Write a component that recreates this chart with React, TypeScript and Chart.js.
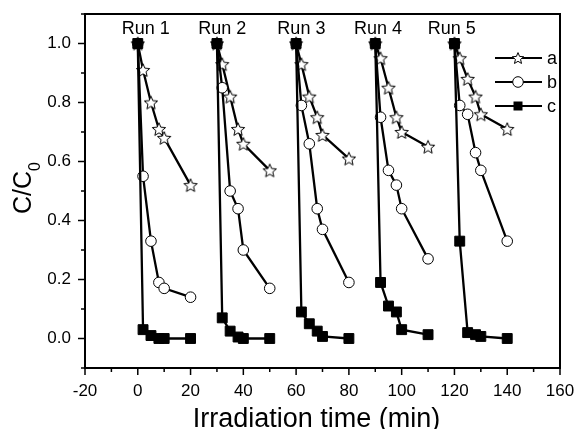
import React, { useEffect, useRef } from 'react';
import { Chart, registerables } from 'chart.js';

Chart.register(...registerables);

// ---- data ----
const runTimes: number[][] = [
  [0, 2, 5, 8, 10, 20],
  [30, 32, 35, 38, 40, 50],
  [60, 62, 65, 68, 70, 80],
  [90, 92, 95, 98, 100, 110],
  [120, 122, 125, 128, 130, 140],
];
const seriesA: number[][] = [
  [1, 0.91, 0.80, 0.71, 0.68, 0.52],
  [1, 0.93, 0.82, 0.71, 0.66, 0.57],
  [1, 0.93, 0.82, 0.75, 0.69, 0.61],
  [1, 0.95, 0.85, 0.75, 0.70, 0.65],
  [1, 0.95, 0.88, 0.82, 0.76, 0.71],
];
const seriesB: number[][] = [
  [1, 0.55, 0.33, 0.19, 0.17, 0.14],
  [1, 0.85, 0.50, 0.44, 0.30, 0.17],
  [1, 0.79, 0.66, 0.44, 0.37, 0.19],
  [1, 0.75, 0.57, 0.52, 0.44, 0.27],
  [1, 0.79, 0.76, 0.63, 0.57, 0.33],
];
const seriesC: number[][] = [
  [1, 0.03, 0.01, 0.0, 0.0, 0.0],
  [1, 0.07, 0.025, 0.005, 0.0, 0.0],
  [1, 0.09, 0.05, 0.025, 0.007, 0.0],
  [1, 0.19, 0.11, 0.09, 0.03, 0.013],
  [1, 0.33, 0.02, 0.013, 0.007, 0.0],
];
const seriesNames = ['a', 'b', 'c'];
const runLabels = ['Run 1', 'Run 2', 'Run 3', 'Run 4', 'Run 5'];
const runLabelX = [3, 32, 62, 91, 119];
const xMin = -20, xMax = 160, xMinorStep = 10, xMajorStep = 20;
const yMin = -0.1, yMax = 1.1;
const xTitle = 'Irradiation time (min)';

const FONT = '"Liberation Sans", Arial, Helvetica, sans-serif';

function buildPoints(series: number[][]) {
  const pts: { x: number; y: number | null }[] = [];
  runTimes.forEach((times, r) => {
    times.forEach((t, i) => pts.push({ x: t, y: series[r][i] }));
    if (r < runTimes.length - 1) pts.push({ x: times[times.length - 1] + 5, y: null });
  });
  return pts;
}

function makeStar(r: number): HTMLCanvasElement {
  const size = Math.ceil(r * 2 + 4);
  const c = document.createElement('canvas');
  c.width = size;
  c.height = size;
  const g = c.getContext('2d')!;
  const cx = size / 2, cy = size / 2 + r * 0.1;
  g.beginPath();
  for (let i = 0; i < 10; i++) {
    const a = -Math.PI / 2 + (i * Math.PI) / 5;
    const rad = i % 2 === 0 ? r : r * 0.45;
    const px = cx + rad * Math.cos(a), py = cy + rad * Math.sin(a);
    if (i === 0) g.moveTo(px, py); else g.lineTo(px, py);
  }
  g.closePath();
  g.fillStyle = '#fff';
  g.fill();
  g.strokeStyle = '#000';
  g.lineWidth = 1;
  g.stroke();
  return c;
}

function zeroPad(s: any) {
  s.paddingLeft = 0;
  s.paddingRight = 0;
  s.paddingTop = 0;
  s.paddingBottom = 0;
}

export default function App() {
  const ref = useRef<HTMLCanvasElement>(null);

  useEffect(() => {
    const star = makeStar(7);
    const legendStar = makeStar(6);

    const decor = {
      id: 'decor',
      afterDraw(chart: any) {
        const { ctx, chartArea: ca, scales } = chart;
        const xs = scales.x, ys = scales.y;
        ctx.save();
        ctx.strokeStyle = '#000';
        ctx.fillStyle = '#000';
        ctx.lineWidth = 2;
        ctx.strokeRect(ca.left, ca.top, ca.right - ca.left, ca.bottom - ca.top);

        // ticks
        ctx.lineWidth = 1.5;
        for (let v = xMin; v <= xMax + 1e-9; v += xMinorStep) {
          const px = xs.getPixelForValue(v);
          const major = Math.abs(v % xMajorStep) < 1e-6;
          const len = major ? 7 : 4;
          ctx.beginPath();
          ctx.moveTo(px, ca.bottom);
          ctx.lineTo(px, ca.bottom + len);
          ctx.stroke();
        }
        for (let k = Math.round(yMin * 10); k <= Math.round(yMax * 10); k++) {
          const py = ys.getPixelForValue(k / 10);
          const major = k % 2 === 0;
          const len = major ? 7 : 4;
          ctx.beginPath();
          ctx.moveTo(ca.left, py);
          ctx.lineTo(ca.left - len, py);
          ctx.stroke();
        }

        // run labels
        ctx.font = `18px ${FONT}`;
        ctx.textAlign = 'center';
        ctx.textBaseline = 'alphabetic';
        runLabels.forEach((lab, i) => {
          ctx.fillText(lab, xs.getPixelForValue(runLabelX[i]), ys.getPixelForValue(1) - 9.5);
        });

        // legend
        const rows = [58, 82, 106];
        seriesNames.forEach((name, i) => {
          const y = rows[i];
          ctx.lineWidth = 2.2;
          ctx.beginPath();
          ctx.moveTo(495, y);
          ctx.lineTo(542, y);
          ctx.stroke();
          if (i === 0) {
            ctx.drawImage(legendStar, 518 - legendStar.width / 2, y - legendStar.height / 2);
          } else if (i === 1) {
            ctx.beginPath();
            ctx.arc(518, y, 5.3, 0, Math.PI * 2);
            ctx.fillStyle = '#fff';
            ctx.fill();
            ctx.lineWidth = 1;
            ctx.stroke();
            ctx.fillStyle = '#000';
          } else {
            ctx.fillRect(513.5, y - 4.5, 9, 9);
          }
          ctx.font = `18px ${FONT}`;
          ctx.textAlign = 'left';
          ctx.textBaseline = 'middle';
          ctx.fillText(name, 547, y + 1);
        });

        // x title
        ctx.font = `27px ${FONT}`;
        ctx.textAlign = 'center';
        ctx.textBaseline = 'alphabetic';
        ctx.fillText(xTitle, (ca.left + ca.right) / 2 - 6, ca.bottom + 58.5);

        // y title C/C0
        ctx.translate(31, (ca.top + ca.bottom) / 2 - 3);
        ctx.rotate(-Math.PI / 2);
        ctx.font = `25px ${FONT}`;
        const w1 = ctx.measureText('C/C').width;
        ctx.font = `16px ${FONT}`;
        const w2 = ctx.measureText('0').width;
        const start = -(w1 + w2) / 2;
        ctx.textAlign = 'left';
        ctx.font = `25px ${FONT}`;
        ctx.fillText('C/C', start, 0);
        ctx.font = `16px ${FONT}`;
        ctx.fillText('0', start + w1, 9);
        ctx.restore();
      },
    };

    const common = {
      borderColor: '#000',
      borderWidth: 2.3,
      pointBorderColor: '#000',
      pointBorderWidth: 1,
      spanGaps: false,
      tension: 0,
    };

    const chart = new Chart(ref.current!, {
      type: 'line',
      data: {
        datasets: [
          {
            ...common,
            label: seriesNames[0],
            data: buildPoints(seriesA),
            pointStyle: star as any,
            pointRadius: 7,
            pointBackgroundColor: '#fff',
            order: 2,
          },
          {
            ...common,
            label: seriesNames[1],
            data: buildPoints(seriesB),
            pointStyle: 'circle',
            pointRadius: 5.3,
            pointBackgroundColor: '#fff',
            order: 1,
          },
          {
            ...common,
            label: seriesNames[2],
            data: buildPoints(seriesC),
            pointStyle: 'rect',
            pointRadius: 7,
            pointBackgroundColor: '#000',
            order: 0,
          },
        ] as any,
      },
      options: {
        responsive: false,
        animation: false,
        devicePixelRatio: 1,
        layout: { padding: { top: 14, right: 17, left: 0, bottom: 0 } },
        plugins: { legend: { display: false }, tooltip: { enabled: false } },
        scales: {
          x: {
            type: 'linear',
            min: xMin,
            max: xMax,
            grid: { display: false, drawTicks: false },
            border: { display: false },
            afterFit: (s: any) => { s.height = 61; zeroPad(s); },
            ticks: {
              stepSize: xMinorStep,
              autoSkip: false,
              maxRotation: 0,
              padding: 13,
              color: '#000',
              font: { family: FONT, size: 17 },
              callback: (v: any) => (Math.abs(Number(v) % xMajorStep) < 1e-6 ? String(v) : ''),
            },
          },
          y: {
            type: 'linear',
            min: yMin,
            max: yMax,
            grid: { display: false, drawTicks: false },
            border: { display: false },
            afterFit: (s: any) => { s.width = 85; zeroPad(s); },
            ticks: {
              stepSize: 0.1,
              autoSkip: false,
              padding: 14,
              color: '#000',
              font: { family: FONT, size: 17 },
              callback: (v: any) => {
                const k = Math.round(Number(v) * 10);
                return k % 2 === 0 ? (k / 10).toFixed(1) : '';
              },
            },
          },
        },
      } as any,
      plugins: [decor],
    });
    return () => chart.destroy();
  }, []);

  return (
    <div style={{ position: 'fixed', left: 0, top: 0, width: 577, height: 429, background: '#fff' }}>
      <canvas ref={ref} width={577} height={429} style={{ display: 'block' }} />
    </div>
  );
}
